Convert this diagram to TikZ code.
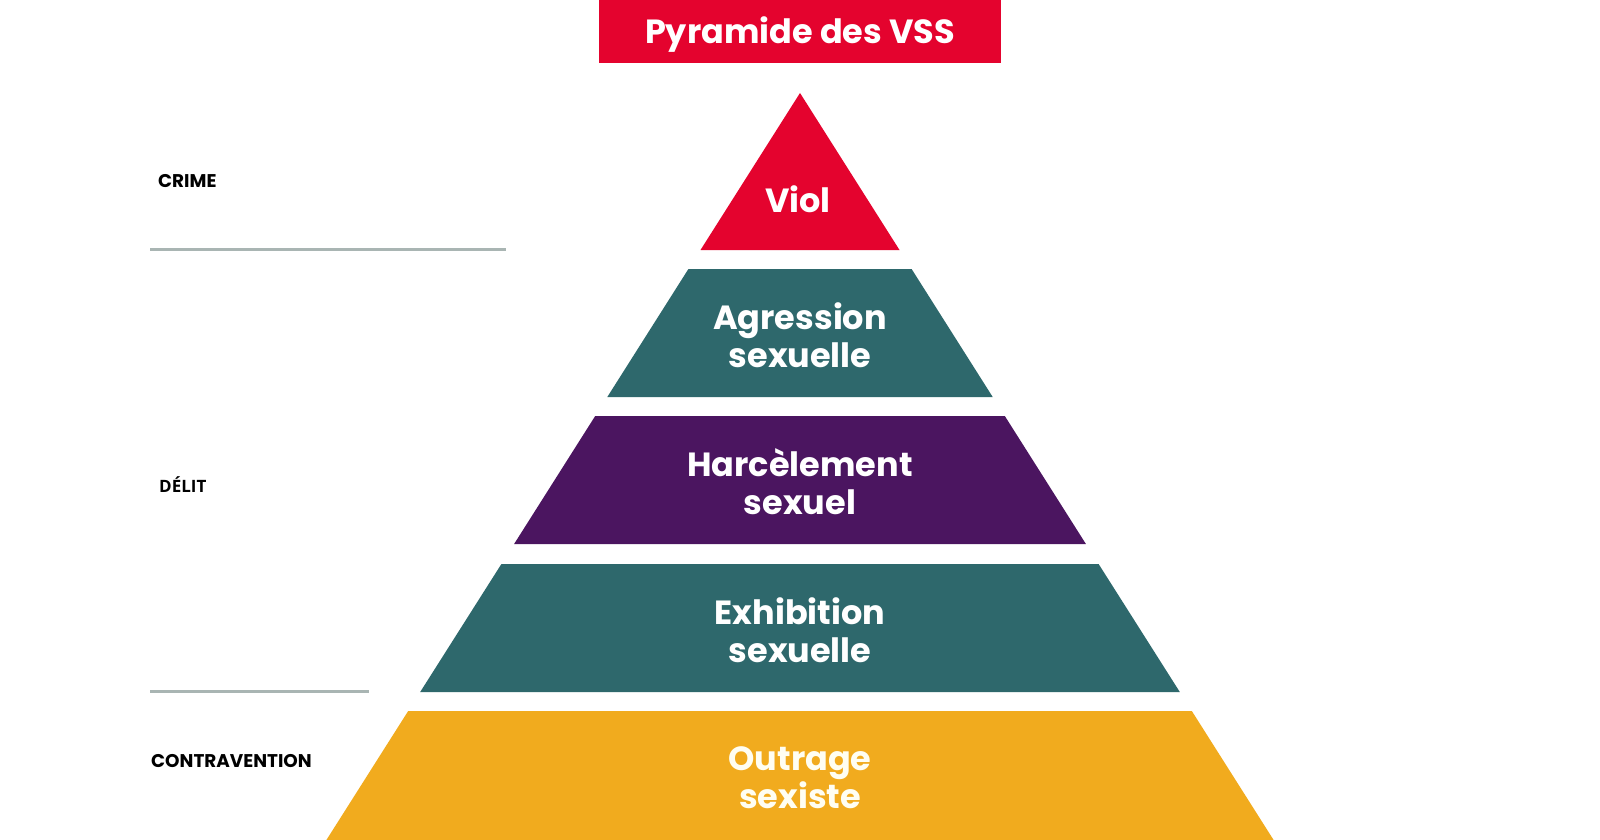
\documentclass[tikz,border=0pt]{standalone}
\usepackage{fontspec}
\setmainfont{Poppins}
\newfontfamily\opensans{Open Sans}
\definecolor{vssred}{HTML}{E4032E}
\definecolor{vssteal}{HTML}{2E686C}
\definecolor{vsspurple}{HTML}{4B1560}
\definecolor{vssamber}{HTML}{F1AB1E}
\definecolor{rulegray}{HTML}{A9B5B3}
\tikzset{
  tier/.style={draw=none},
  tiertext/.style={text=white, font=\fontsize{33.5}{38}\selectfont\bfseries, align=center, inner sep=0pt},
  sidelabel/.style={text=black, font=\fontsize{18.4}{20}\selectfont\bfseries, inner sep=0pt, anchor=base west},
  rule/.style={draw=rulegray, line width=3pt}
}
\begin{document}
\begin{tikzpicture}[x=1pt,y=-1pt]
\useasboundingbox (0,0) rectangle (1600,840);
\fill[white] (0,0) rectangle (1600,840);
% title
\fill[vssred] (599,0) rectangle (1001,63);
\node[text=white, font=\fontsize{33.5}{38}\selectfont\bfseries, inner sep=0pt] (title) at (800,35) {Pyramide des VSS};
% tiers
\fill[tier, vssred] (800,93) -- (899.5,250) -- (700.5,250) -- cycle;
\fill[tier, vssteal] (688.4,269) -- (911.6,269) -- (992.7,397) -- (607.3,397) -- cycle;
\fill[tier, vsspurple] (595.2,416) -- (1004.8,416) -- (1085.9,544) -- (514.1,544) -- cycle;
\fill[tier, vssteal] (501.4,564) -- (1098.6,564) -- (1179.8,692) -- (420.2,692) -- cycle;
\fill[tier, vssamber] (408.2,711) -- (1191.8,711) -- (1273.6,840) -- (326.4,840) -- cycle;
\node[tiertext] (viol) at (798,199) {Viol};
\node[tiertext] (agression) at (800,335) {Agression\\sexuelle};
\node[tiertext] (harcelement) at (800,482) {Harcèlement\\sexuel};
\node[tiertext] (exhibition) at (800,630) {Exhibition\\sexuelle};
\node[tiertext, text=white!95!yellow] (outrage) at (800,778) {Outrage\\sexiste};
% side labels
\node[sidelabel] (crime) at (158,187) {CRIME};
\node[sidelabel, font=\fontsize{17}{20}\selectfont\opensans\bfseries] (delit) at (159,492) {DÉLIT};
\node[sidelabel] (contravention) at (151,767) {CONTRAVENTION};
\coordinate (r1a) at (150,249);
\coordinate (r1b) at (506,249);
\coordinate (r2a) at (150,691);
\coordinate (r2b) at (369,691);
\draw[rule] (r1a) -- (r1b);
\draw[rule] (r2a) -- (r2b);
\end{tikzpicture}
\end{document}
